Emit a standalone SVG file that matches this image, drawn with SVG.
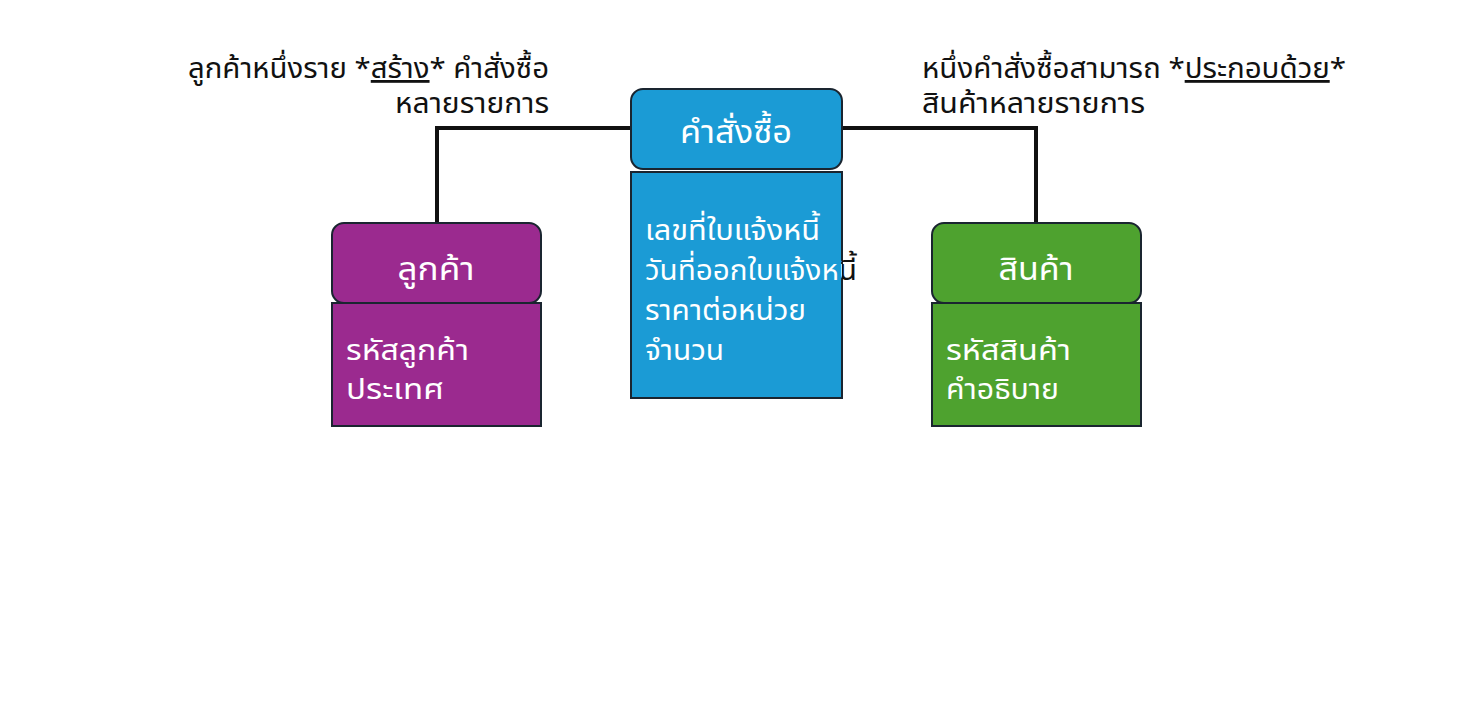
<svg xmlns="http://www.w3.org/2000/svg" width="1475" height="720" viewBox="0 0 1475 720">
<style>
text{font-family:"Noto Sans Thai","Noto Sans","DejaVu Sans",sans-serif}
.note{font-size:28px;fill:#111}
.hdr{font-size:32px;fill:#fff;text-anchor:middle}
.attr{font-size:29px;fill:#fff}
.ovf{fill:url(#ovf)}
.line{fill:none;stroke:#111;stroke-width:4}
.bh{stroke:#1a2530;stroke-width:2}
</style>
<defs>
<linearGradient id="ovf" gradientUnits="userSpaceOnUse" x1="0" y1="0" x2="1475" y2="0">
<stop offset="0.5708" stop-color="#fff"/>
<stop offset="0.5708" stop-color="#111"/>
</linearGradient>
</defs>
<rect width="1475" height="720" fill="#fff"/>
<g id="connectors">
<path class="line" d="M631 128 H437 V223"/>
<path class="line" d="M842 128 H1036 V223"/>
</g>
<g id="note-left">
<text class="note" x="549" y="78" text-anchor="end" textLength="361" lengthAdjust="spacingAndGlyphs">ลูกค้าหนึ่งราย *<tspan text-decoration="underline">สร้าง</tspan>* คำสั่งซื้อ</text>
<text class="note" x="549" y="113" text-anchor="end" textLength="154" lengthAdjust="spacingAndGlyphs">หลายรายการ</text>
</g>
<g id="note-right">
<text class="note" x="922" y="78" textLength="424" lengthAdjust="spacingAndGlyphs">หนึ่งคำสั่งซื้อสามารถ *<tspan text-decoration="underline">ประกอบด้วย</tspan>*</text>
<text class="note" x="922" y="113" textLength="223" lengthAdjust="spacingAndGlyphs">สินค้าหลายรายการ</text>
</g>
<g id="order">
<rect class="bh" x="631" y="172" width="211" height="226" fill="#1b9bd5"/>
<rect class="bh" x="631" y="89" width="211" height="80" rx="12" fill="#1b9bd5"/>
<text class="hdr" x="736" y="143" textLength="112" lengthAdjust="spacingAndGlyphs">คำสั่งซื้อ</text>
<text class="attr" x="645" y="240" textLength="175" lengthAdjust="spacingAndGlyphs">เลขที่ใบแจ้งหนี้</text>
<text class="attr ovf" x="645" y="280" textLength="212" lengthAdjust="spacingAndGlyphs">วันที่ออกใบแจ้งหนี้</text>
<text class="attr" x="645" y="320" textLength="161" lengthAdjust="spacingAndGlyphs">ราคาต่อหน่วย</text>
<text class="attr" x="645" y="360" textLength="79" lengthAdjust="spacingAndGlyphs">จำนวน</text>
</g>
<g id="customer">
<rect class="bh" x="332" y="303" width="209" height="123" fill="#9b2a8f"/>
<rect class="bh" x="332" y="223" width="209" height="80" rx="12" fill="#9b2a8f"/>
<text class="hdr" x="436" y="280" textLength="77" lengthAdjust="spacingAndGlyphs">ลูกค้า</text>
<text class="attr" x="346" y="360" textLength="123" lengthAdjust="spacingAndGlyphs">รหัสลูกค้า</text>
<text class="attr" x="346" y="399" textLength="98" lengthAdjust="spacingAndGlyphs">ประเทศ</text>
</g>
<g id="product">
<rect class="bh" x="932" y="303" width="209" height="123" fill="#4ea22f"/>
<rect class="bh" x="932" y="223" width="209" height="80" rx="12" fill="#4ea22f"/>
<text class="hdr" x="1036" y="280" textLength="75" lengthAdjust="spacingAndGlyphs">สินค้า</text>
<text class="attr" x="946" y="360" textLength="125" lengthAdjust="spacingAndGlyphs">รหัสสินค้า</text>
<text class="attr" x="946" y="399" textLength="113" lengthAdjust="spacingAndGlyphs">คำอธิบาย</text>
</g>
</svg>
